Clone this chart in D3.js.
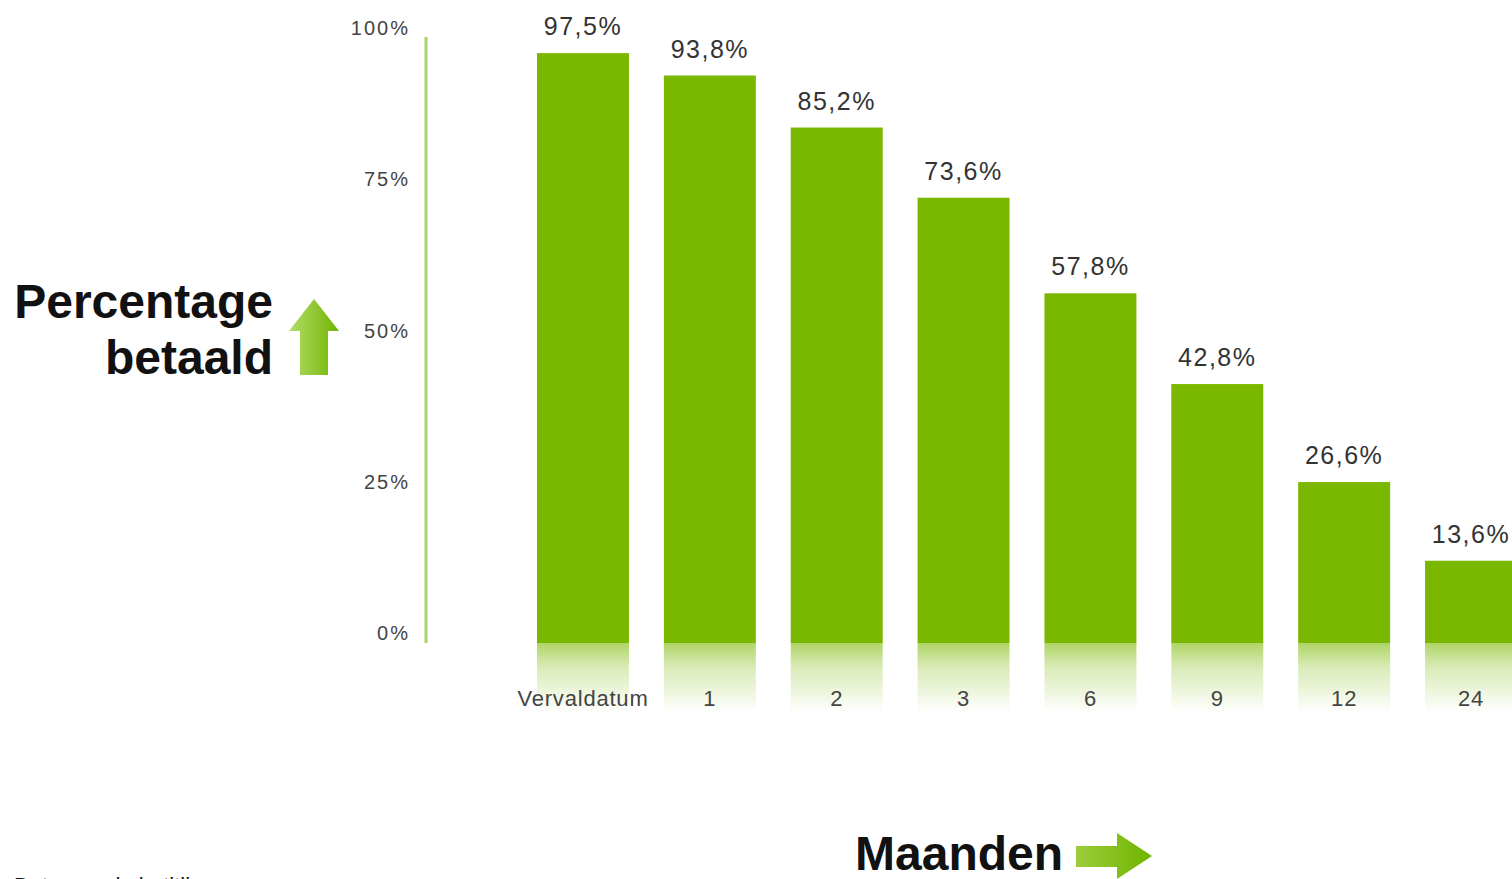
<!DOCTYPE html>
<html>
<head>
<meta charset="utf-8">
<script src="https://d3js.org/d3.v7.min.js"></script>
<style>
  body { margin: 0; background: #fff; }
  svg { display: block; font-family: "Liberation Sans", Arial, Helvetica, sans-serif; }
</style>
</head>
<body>
<div id="chart"></div>
<script>
// data
const categories = ["Vervaldatum", "1", "2", "3", "6", "9", "12", "24"];
const values = [97.5, 93.8, 85.2, 73.6, 57.8, 42.8, 26.6, 13.6];
const valueLabels = ["97,5%", "93,8%", "85,2%", "73,6%", "57,8%", "42,8%", "26,6%", "13,6%"];
const yTicks = [0, 25, 50, 75, 100];
const yTickLabels = ["0%", "25%", "50%", "75%", "100%"];

const width = 1512, height = 879;
const green = "#7ab800";

const svg = d3.select("#chart").append("svg")
    .attr("width", width)
    .attr("height", height);

const defs = svg.append("defs");

// fading reflection under the bars
const fade = defs.append("linearGradient")
    .attr("id", "fade")
    .attr("x1", 0).attr("y1", 0).attr("x2", 0).attr("y2", 1);
fade.append("stop").attr("offset", "0%").attr("stop-color", green).attr("stop-opacity", 0.6);
fade.append("stop").attr("offset", "35%").attr("stop-color", green).attr("stop-opacity", 0.28);
fade.append("stop").attr("offset", "100%").attr("stop-color", green).attr("stop-opacity", 0);

// arrow gradients
const upGrad = defs.append("linearGradient")
    .attr("id", "upGrad")
    .attr("x1", 0).attr("y1", 0).attr("x2", 1).attr("y2", 0);
upGrad.append("stop").attr("offset", "0%").attr("stop-color", "#b4dc6a");
upGrad.append("stop").attr("offset", "100%").attr("stop-color", "#6fb400");

const rightGrad = defs.append("linearGradient")
    .attr("id", "rightGrad")
    .attr("x1", 0).attr("y1", 0).attr("x2", 1).attr("y2", 0);
rightGrad.append("stop").attr("offset", "0%").attr("stop-color", "#9ccd3a");
rightGrad.append("stop").attr("offset", "100%").attr("stop-color", "#6fb400");

// scales
const x = d3.scaleBand()
    .domain(categories)
    .range([537, 1517])
    .paddingInner(0.275)
    .paddingOuter(0);

const y = d3.scaleLinear()
    .domain([0, 100])
    .range([643, 38]);

// y axis line
svg.append("line")
    .attr("x1", 426).attr("x2", 426)
    .attr("y1", 37).attr("y2", 643)
    .style("stroke", "#a9d46c")
    .style("stroke-width", 3);

// y tick labels
svg.selectAll(".ytick")
    .data(yTicks)
    .enter()
    .append("text")
    .attr("class", "ytick")
    .attr("x", 410)
    .attr("y", d => y(d) - 3)
    .attr("text-anchor", "end")
    .style("font-size", "20px")
    .style("letter-spacing", "2px")
    .style("fill", "#444")
    .text((d, i) => yTickLabels[i]);

// bars
const bars = svg.selectAll(".bar")
    .data(values)
    .enter()
    .append("g")
    .attr("class", "bar");

bars.append("rect")
    .attr("x", (d, i) => x(categories[i]))
    .attr("y", d => y(d))
    .attr("width", x.bandwidth())
    .attr("height", d => y(0) - y(d))
    .style("fill", green);

bars.append("rect")
    .attr("x", (d, i) => x(categories[i]))
    .attr("y", y(0))
    .attr("width", x.bandwidth())
    .attr("height", 70)
    .style("fill", "url(#fade)");

// value labels
bars.append("text")
    .attr("x", (d, i) => x(categories[i]) + x.bandwidth() / 2)
    .attr("y", d => y(d) - 18)
    .attr("text-anchor", "middle")
    .style("font-size", "25px")
    .style("letter-spacing", "1.5px")
    .style("fill", "#333")
    .text((d, i) => valueLabels[i]);

// category labels
svg.selectAll(".xlabel")
    .data(categories)
    .enter()
    .append("text")
    .attr("class", "xlabel")
    .attr("x", d => x(d) + x.bandwidth() / 2)
    .attr("y", 706)
    .attr("text-anchor", "middle")
    .style("font-size", "22px")
    .style("letter-spacing", "0.8px")
    .style("fill", "#444")
    .text(d => d);

// y title
const yTitle = svg.append("text")
    .attr("text-anchor", "end")
    .style("font-size", "48px")
    .style("font-weight", "bold")
    .style("fill", "#111");
yTitle.append("tspan").attr("x", 273).attr("y", 318).text("Percentage");
yTitle.append("tspan").attr("x", 273).attr("y", 374).text("betaald");

// up arrow
svg.append("path")
    .attr("d", "M314,299 L339,331 L328,331 L328,375 L300,375 L300,331 L289,331 Z")
    .style("fill", "url(#upGrad)");

// x title
svg.append("text")
    .attr("x", 855)
    .attr("y", 870)
    .style("font-size", "48px")
    .style("font-weight", "bold")
    .style("fill", "#111")
    .text("Maanden");

// right arrow
svg.append("path")
    .attr("d", "M1076,846 L1117,846 L1117,833 L1152,856 L1117,879 L1117,867 L1076,867 Z")
    .style("fill", "url(#rightGrad)");

// cut-off footnote at the bottom edge
svg.append("text")
    .attr("x", 14)
    .attr("y", 893)
    .style("font-size", "22px")
    .style("fill", "#111")
    .text("Data van de betitling");
</script>
</body>
</html>
